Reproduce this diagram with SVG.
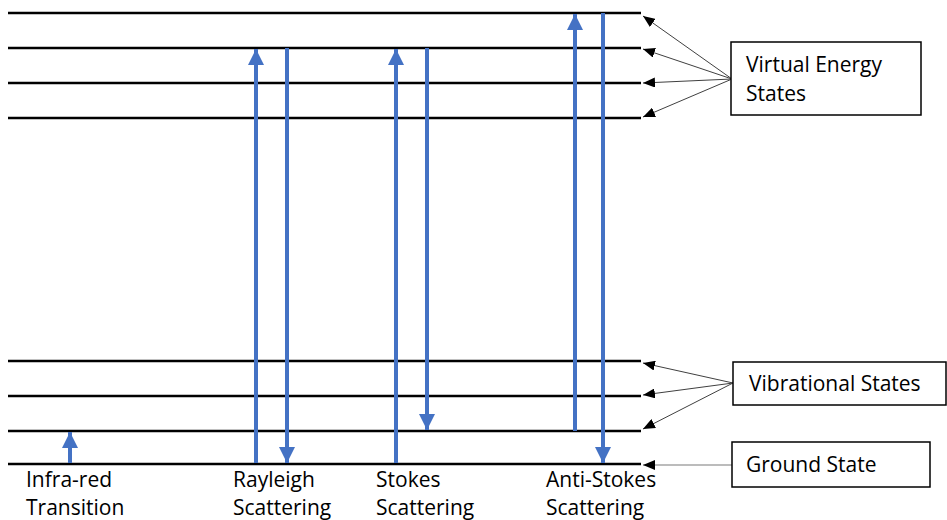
<svg xmlns="http://www.w3.org/2000/svg" width="947" height="520" viewBox="0 0 947 520">
  <style>
    .level { stroke: #000; stroke-width: 2.5; }
    .photon { stroke: #4472C4; stroke-width: 4; fill: none; }
    .pointer { stroke: #404040; stroke-width: 1; fill: none; }
    .pointer-grey { stroke: #a6a6a6; stroke-width: 1.5; fill: none; }
    .box { fill: #fff; stroke: #000; stroke-width: 1.5; }
    .label { font-family: "Open Sans", "Liberation Sans", sans-serif; font-size: 21px; fill: #000; }
  </style>
  <defs>
    <marker id="blueHead" markerWidth="4" markerHeight="4" refX="4" refY="2" orient="auto" markerUnits="strokeWidth">
      <path d="M0,0 L4,2 L0,4 z" fill="#4472C4"/>
    </marker>
    <marker id="blackHead" markerWidth="12" markerHeight="10" refX="12" refY="5" orient="auto" markerUnits="userSpaceOnUse">
      <path d="M0,0 L12,5 L0,10 z" fill="#000"/>
    </marker>
  </defs>

  <!-- energy levels -->
  <g id="levels">
    <line class="level" x1="8" y1="13" x2="641" y2="13"/>
    <line class="level" x1="8" y1="48" x2="641" y2="48"/>
    <line class="level" x1="8" y1="83" x2="641" y2="83"/>
    <line class="level" x1="8" y1="118" x2="641" y2="118"/>
    <line class="level" x1="8" y1="361" x2="641" y2="361"/>
    <line class="level" x1="8" y1="396" x2="641" y2="396"/>
    <line class="level" x1="8" y1="431" x2="641" y2="431"/>
    <line class="level" x1="8" y1="464" x2="641" y2="464"/>
  </g>

  <!-- transitions -->
  <g id="connectors">
    <line class="photon" x1="70" y1="463" x2="70" y2="432" marker-end="url(#blueHead)"/>
    <line class="photon" x1="256" y1="463" x2="256" y2="49" marker-end="url(#blueHead)"/>
    <line class="photon" x1="287" y1="48" x2="287" y2="463" marker-end="url(#blueHead)"/>
    <line class="photon" x1="396" y1="463" x2="396" y2="49" marker-end="url(#blueHead)"/>
    <line class="photon" x1="427" y1="48" x2="427" y2="430" marker-end="url(#blueHead)"/>
    <line class="photon" x1="575" y1="431" x2="575" y2="14" marker-end="url(#blueHead)"/>
    <line class="photon" x1="603" y1="13" x2="603" y2="463" marker-end="url(#blueHead)"/>

    <line class="pointer" x1="732" y1="79" x2="643" y2="16" marker-end="url(#blackHead)"/>
    <line class="pointer" x1="732" y1="79" x2="643" y2="49" marker-end="url(#blackHead)"/>
    <line class="pointer" x1="732" y1="79" x2="643" y2="83" marker-end="url(#blackHead)"/>
    <line class="pointer" x1="732" y1="79" x2="643" y2="117" marker-end="url(#blackHead)"/>

    <line class="pointer" x1="733" y1="383" x2="643" y2="363" marker-end="url(#blackHead)"/>
    <line class="pointer" x1="733" y1="383" x2="643" y2="395" marker-end="url(#blackHead)"/>
    <line class="pointer" x1="733" y1="383" x2="643" y2="429" marker-end="url(#blackHead)"/>

    <line class="pointer-grey" x1="732" y1="465" x2="643" y2="465" marker-end="url(#blackHead)"/>
  </g>

  <!-- callout boxes -->
  <g id="virtual-energy-states">
    <rect class="box" x="731" y="42" width="190" height="73"/>
    <text class="label" x="746" y="72">Virtual Energy</text>
    <text class="label" x="746" y="101">States</text>
  </g>
  <g id="vibrational-states">
    <rect class="box" x="733" y="362" width="213" height="43"/>
    <text class="label" x="749" y="391">Vibrational States</text>
  </g>
  <g id="ground-state">
    <rect class="box" x="732" y="442" width="198" height="45"/>
    <text class="label" x="746" y="472">Ground State</text>
  </g>

  <!-- transition labels -->
  <g id="infra-red">
    <text class="label" x="26" y="487">Infra-red</text>
    <text class="label" x="26" y="515">Transition</text>
  </g>
  <g id="rayleigh">
    <text class="label" x="233" y="487">Rayleigh</text>
    <text class="label" x="233" y="515">Scattering</text>
  </g>
  <g id="stokes">
    <text class="label" x="376" y="487">Stokes</text>
    <text class="label" x="376" y="515">Scattering</text>
  </g>
  <g id="anti-stokes">
    <text class="label" x="546" y="487">Anti-Stokes</text>
    <text class="label" x="546" y="515">Scattering</text>
  </g>
</svg>
